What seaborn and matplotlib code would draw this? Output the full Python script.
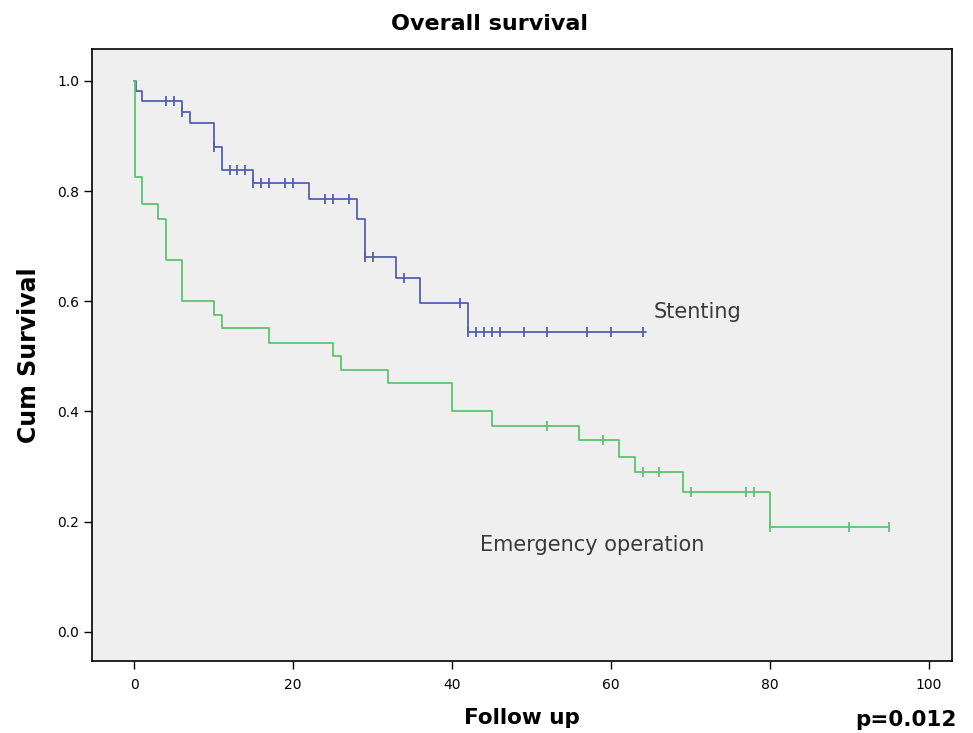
import matplotlib
matplotlib.use("Agg")
import matplotlib.pyplot as plt
import numpy as np
import pandas as pd
import seaborn as sns

# Kaplan-Meier steps (time in months, cumulative survival)
stent_times = [0, 0.2, 1, 6, 7, 10, 11, 15, 22, 28, 29, 33, 36, 42, 64.4]
stent_surv = [1.0, 0.982, 0.964, 0.944, 0.924, 0.880, 0.838, 0.814, 0.786,
              0.750, 0.681, 0.643, 0.596, 0.545, 0.545]
stent_censored = [4, 5, 6, 10, 12, 13, 14, 15, 16, 17, 19, 20, 24, 25, 27,
                  29, 30, 34, 41, 42, 43, 44, 45, 46, 49, 52, 57, 60, 64]

emerg_times = [0, 0.1, 1, 3, 4, 6, 10, 11, 17, 25, 26, 32, 40, 45, 56, 61,
               63, 69, 80, 95]
emerg_surv = [1.0, 0.826, 0.776, 0.750, 0.675, 0.600, 0.575, 0.551, 0.525,
              0.501, 0.475, 0.451, 0.400, 0.374, 0.348, 0.318, 0.290, 0.254,
              0.191, 0.191]
emerg_censored = [52, 59, 64, 66, 70, 77, 78, 80, 90, 95]

blue = "#5261b0"
green = "#5cc66c"

sns.set_style("ticks", {"axes.facecolor": "#efefef", "axes.edgecolor": "black",
                        "text.color": "black", "axes.labelcolor": "black"})
plt.rcParams["font.family"] = ["DejaVu Sans"]

fig = plt.figure(figsize=(9.73, 7.33), dpi=100)
ax = fig.add_axes([92 / 973, 1 - 661 / 733, 860 / 973, 612 / 733])


def surv_at(times, surv, t):
    idx = np.searchsorted(times, t, side="right") - 1
    return np.asarray(surv)[idx]


for times, surv, cens, col in [
    (stent_times, stent_surv, stent_censored, blue),
    (emerg_times, emerg_surv, emerg_censored, green),
]:
    df = pd.DataFrame({"t": times, "s": surv})
    sns.lineplot(data=df, x="t", y="s", ax=ax, color=col, lw=1.3,
                 drawstyle="steps-post", estimator=None, sort=False)
    cdf = pd.DataFrame({"t": cens, "s": surv_at(times, surv, cens)})
    sns.scatterplot(data=cdf, x="t", y="s", ax=ax, marker="|", color=col,
                    s=50, linewidth=1.3)

ax.set_xlim(-5.3, 102.9)
ax.set_ylim(-0.053, 1.058)
ax.set_xticks(range(0, 101, 20))
ax.set_yticks(np.arange(0, 1.01, 0.2))
ax.set_yticklabels([f"{v:.1f}" for v in np.arange(0, 1.01, 0.2)])
ax.tick_params(labelsize=10, length=6, width=1, colors="black")
ax.tick_params(axis="x", pad=6)
ax.tick_params(axis="y", pad=3)
for sp in ax.spines.values():
    sp.set_visible(True)
    sp.set_linewidth(1.2)

ax.set_xlabel("Follow up", fontsize=15.5, fontweight="bold", labelpad=12)
ax.set_ylabel("Cum Survival", fontsize=17, fontweight="bold", labelpad=12)
fig.text(489 / 973, 1 - 24 / 733, "Overall survival", fontsize=16,
         fontweight="bold", ha="center", va="center")

ax.text(65.3, 0.58, "Stenting", fontsize=15, color="#3a3a3a", va="center")
ax.text(43.5, 0.158, "Emergency operation", fontsize=15, color="#3a3a3a",
        va="center")
fig.text(906 / 973, 1 - 720 / 733, "p=0.012", fontsize=15.5, fontweight="bold",
         ha="center", va="center")

fig.savefig("out.png", dpi=100)
